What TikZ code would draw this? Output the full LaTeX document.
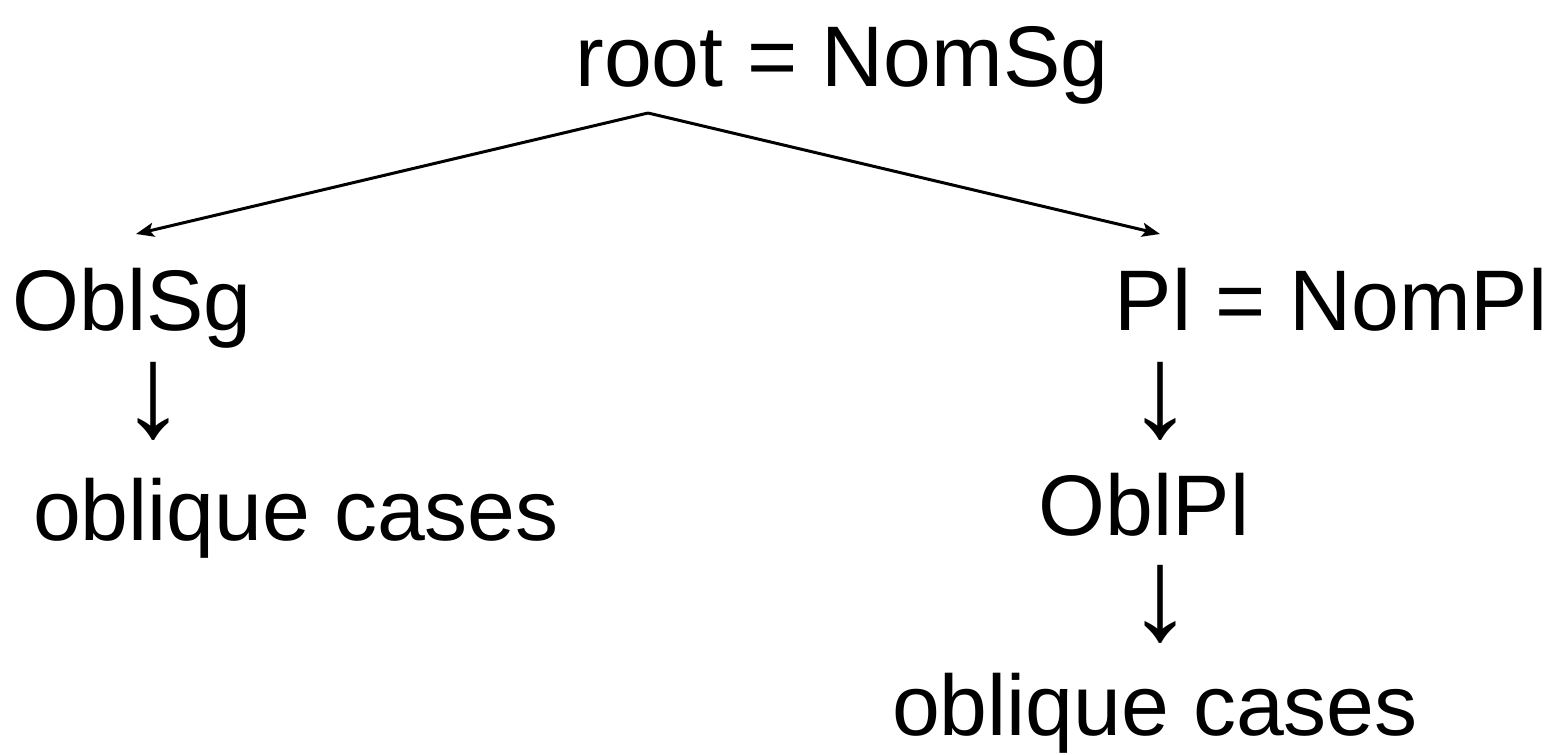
\documentclass[tikz,border=0pt]{standalone}
\usepackage{fontspec}
\setmainfont{Liberation Sans}
\usetikzlibrary{arrows.meta}
\tikzset{
  lbl/.style={anchor=base, inner sep=0pt, font=\fontsize{86}{100}\selectfont},
  down/.style={anchor=base, inner sep=0pt, font=\fontsize{132}{150}\selectfont},
  branch/.style={line width=3pt, -{Stealth[length=18pt, width=14pt, inset=4pt]}}
}
\begin{document}
\begin{tikzpicture}[x=1pt, y=-1pt]
  \useasboundingbox (0,0) rectangle (1548,755);
  % word forms
  \node[lbl] (root)  at (842,86)  {root = NomSg};
  \node[lbl] (oblsg) at (132,330) {OblSg};
  \node[lbl] (pl)    at (1331,330) {Pl = NomPl};
  \node[lbl] (casesL) at (296,540) {oblique cases};
  \node[lbl] (oblpl) at (1144,535) {OblPl};
  \node[lbl] (casesR) at (1155,735) {oblique cases};
  % derivation arrows (tall glyphs, smashed so their boxes stay small)
  \node[down] (dL)  at (153,436) {\smash{↓}};
  \node[down] (dR1) at (1160,436) {\smash{↓}};
  \node[down] (dR2) at (1160,639) {\smash{↓}};
  % branching from the root
  \coordinate (apex) at (648,113);
  \coordinate (tipL) at (136,234);
  \coordinate (tipR) at (1160,234);
  \draw[branch] (apex) -- (tipL);
  \draw[branch] (apex) -- (tipR);
\end{tikzpicture}
\end{document}
